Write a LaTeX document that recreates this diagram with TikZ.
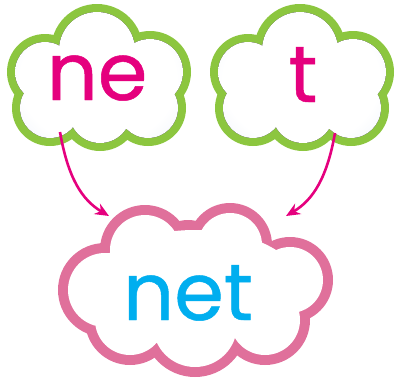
\documentclass[tikz,border=0pt]{standalone}
\usepackage{fontspec}
\newfontfamily\popfont{Poppins}[FakeBold=0.6]
\usetikzlibrary{arrows.meta}
\definecolor{mag}{HTML}{E5007E}
\definecolor{cgreen}{HTML}{8CC63F}
\definecolor{cpink}{HTML}{E0709B}
\definecolor{ccyan}{HTML}{00AEEF}
\definecolor{cblue}{HTML}{DCE5F4}
\pgfdeclareradialshading{cloudsh}{\pgfpoint{0bp}{0bp}}{color(0bp)=(white); color(17bp)=(white); color(34bp)=(cblue); color(50bp)=(cblue)}
\tikzset{
  word/.style={anchor=base, inner sep=0pt, font=\popfont\fontsize{80}{80}\selectfont},
  link/.style={mag, line width=2.6pt, -{Stealth[length=14pt,width=12pt]}}
}
\newcommand\drawcloud[6]{% #1 border colour, #2 fill style, #3 border width, #4 lobes x/y/r, #5 core ellipse cx/cy/rx/ry, #6 fill ellipse cx/cy/rx/ry
  \foreach \a/\b/\r in {#4} {\fill[#1] (\a,\b) circle[radius=\r+#3];}
  \begin{scope}
    \clip foreach \a/\b/\r in {#4} {(\a,\b) circle[radius=\r]} foreach \a/\b/\rx/\ry in {#5} {(\a,\b) ellipse[x radius=\rx, y radius=\ry]};
    \fill[#2] foreach \a/\b/\rx/\ry in {#6} {(\a,\b) ellipse[x radius=\rx, y radius=\ry]};
  \end{scope}
}
\begin{document}
\begin{tikzpicture}[x=1pt,y=-1pt]
\useasboundingbox (0,0) rectangle (401,383);
% top left cloud
\drawcloud{cgreen}{shading=cloudsh}{8}{97/50/38, 45/72/30, 150/72/33, 50/108/30, 100/112/31, 148/108/30}{98/80/65/40}{98/80/115/95}
% top right cloud
\begin{scope}[xshift=203pt]
\drawcloud{cgreen}{shading=cloudsh}{8}{97/50/38, 45/72/30, 150/72/33, 50/108/30, 100/112/31, 148/108/30}{98/80/65/40}{98/80/115/95}
\end{scope}
% bottom cloud
\drawcloud{cpink}{white}{10}{145/250/35, 188/256/26, 230/245/32, 290/280/33, 105/290/37, 195/325/42, 130/320/35, 265/320/35}{195/285/105/55}{195/290/200/150}
% words
\node[word, mag] (ne) at (97,100) {ne};
\node[word, mag] (t) at (303,102) {t};
\node[word, ccyan] (net) at (188,320) {net};
% connectors
\coordinate (a1) at (60,132);
\coordinate (a2) at (109,216);
\coordinate (b1) at (335,133);
\coordinate (b2) at (286,216);
\draw[link] (a1) .. controls (68,178) and (82,200) .. (a2);
\draw[link] (b1) .. controls (327,178) and (313,200) .. (b2);
\end{tikzpicture}
\end{document}
